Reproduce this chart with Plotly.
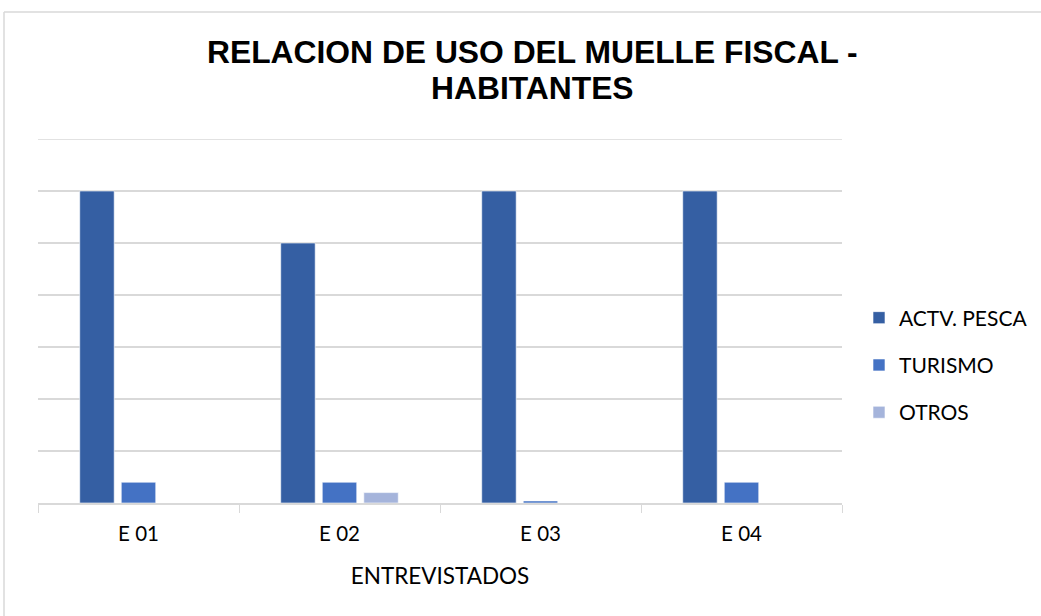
import plotly.graph_objects as go

categories = ["E 01", "E 02", "E 03", "E 04"]
pesca = [30, 25, 30, 30]
turismo = [2, 2, 0.2, 2]
otros = [0, 1, 0, 0]
series_names = ["ACTV. PESCA", "TURISMO", "OTROS"]
colors = ["#355FA3", "#4472C4", "#A5B4DB"]
title_lines = ["RELACION DE USO DEL MUELLE FISCAL -", "HABITANTES"]

L, R, T, B = 38, 199, 139, 113
W, H = 1041, 616
PW, PH = W - L - R, H - T - B
YMAX = 35

def px_x(x):
    return (x - L) / PW

def px_y(y):
    return 1 + (T - y) / PH

fig = go.Figure()
for i, (name, vals, col) in enumerate(zip(series_names, [pesca, turismo, otros], colors)):
    fig.add_trace(go.Bar(
        x=categories, y=vals, name=name, legendgroup=str(i),
        marker=dict(color=col, line=dict(color="rgba(255,255,255,0.6)", width=1)),
    ))

fig.update_layout(
    width=W, height=H,
    margin=dict(l=L, r=R, t=T, b=B, autoexpand=False),
    paper_bgcolor="white", plot_bgcolor="white",
    barmode="group", bargap=0.38, bargroupgap=0.17,
    legend=dict(
        xref="container", yref="container",
        x=859 / W, xanchor="left", y=1 - 365 / H, yanchor="middle",
        font=dict(family="Lato, Open Sans", size=21, color="black"),
        itemwidth=30, tracegroupgap=17,
        bgcolor="rgba(0,0,0,0)",
    ),
    font=dict(family="Lato, Open Sans", color="black"),
    showlegend=True,
)
for txt, yy in zip(title_lines, [52, 88]):
    fig.add_annotation(
        text="<b>%s</b>" % txt, xref="paper", yref="paper",
        x=px_x(532), y=px_y(yy), xanchor="center", yanchor="middle",
        showarrow=False,
        font=dict(family="Liberation Sans, Arial", size=31.8, color="black"),
    )
fig.update_xaxes(
    showline=True, linecolor="#d9d9d9", linewidth=1.5,
    ticks="outside", tickson="boundaries", ticklen=8, tickcolor="#d9d9d9",
    ticklabelstandoff=12,
    tickfont=dict(family="Lato, Open Sans", size=20.5, color="black"),
    title=dict(text="ENTREVISTADOS", font=dict(family="Lato, Open Sans", size=22.5, color="black"), standoff=24),
)
fig.update_yaxes(
    range=[0, YMAX], dtick=5, showticklabels=False,
    showgrid=True, gridcolor="#d9d9d9", gridwidth=1.5, zeroline=False,
)
# top gridline at the range end
fig.add_shape(type="line", xref="paper", yref="y", x0=0, x1=1, y0=YMAX, y1=YMAX,
              line=dict(color="#d9d9d9", width=1.5), layer="below")
# outer chart border (left and top edges visible)
fig.add_shape(type="line", xref="paper", yref="paper",
              x0=px_x(4), x1=1.3, y0=px_y(12), y1=px_y(12),
              line=dict(color="#d9d9d9", width=1.5))
fig.add_shape(type="line", xref="paper", yref="paper",
              x0=px_x(4), x1=px_x(4), y0=-0.4, y1=px_y(12),
              line=dict(color="#d9d9d9", width=1.5))

fig.write_html("out.html", config={"displayModeBar": False},
               post_script="document.body.style.margin='0';")
